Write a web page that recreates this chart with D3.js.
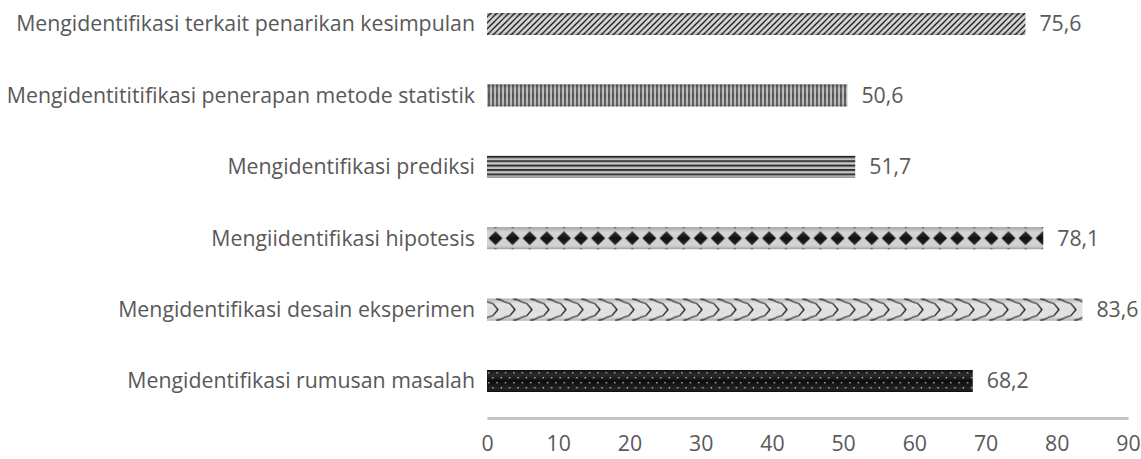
<!DOCTYPE html>
<html>
<head>
<meta charset="utf-8">
<script src="https://cdn.jsdelivr.net/npm/d3@7"></script>
<style>
  body { margin: 0; background: #fff; }
  svg text { font-family: "Open Sans", sans-serif; fill: #595959; }
</style>
</head>
<body>
<div class="chart"></div>
<script>
const width = 1141,
    height = 459,
    margin = { top: 24, bottom: 78, left: 487, right: 13 };

// top to bottom
const categories = [
    "Mengidentifikasi terkait penarikan kesimpulan",
    "Mengidentititifikasi penerapan metode statistik",
    "Mengidentifikasi prediksi",
    "Mengiidentifikasi hipotesis",
    "Mengidentifikasi desain eksperimen",
    "Mengidentifikasi rumusan masalah"
];
const values = [75.6, 50.6, 51.7, 78.1, 83.6, 68.2];
const valueLabels = ["75,6", "50,6", "51,7", "78,1", "83,6", "68,2"];
const ticks = [0, 10, 20, 30, 40, 50, 60, 70, 80, 90];
const patternIds = ["pDiag", "pVert", "pHoriz", "pDiamond", "pScale", "pDots"];
const barH = 22;
const fontSize = "21.3px";

const svg = d3.select(".chart")
    .append("svg")
    .attr("width", width)
    .attr("height", height);

const defs = svg.append("defs");

const xScale = d3.scaleLinear()
    .domain([0, 90])
    .range([margin.left, width - margin.right]);

// bar centres
const yScale = d3.scalePoint()
    .domain(categories)
    .range([margin.top, height - margin.bottom]);

// diagonal stripes
let p = defs.append("pattern").attr("id", "pDiag").attr("patternUnits", "userSpaceOnUse")
    .attr("width", 6).attr("height", 6);
p.append("rect").attr("width", 6).attr("height", 6).attr("fill", "#d4d4d4");
p.append("path").attr("d", "M-1,1 L1,-1 M0,6 L6,0 M5,7 L7,5")
    .attr("stroke", "#222").attr("stroke-width", 1.5);

// vertical stripes
p = defs.append("pattern").attr("id", "pVert").attr("patternUnits", "userSpaceOnUse")
    .attr("width", 4).attr("height", 4);
p.append("rect").attr("width", 4).attr("height", 4).attr("fill", "#b8b8b8");
p.append("rect").attr("width", 2).attr("height", 4).attr("fill", "#555");

// horizontal stripes
p = defs.append("pattern").attr("id", "pHoriz").attr("patternUnits", "userSpaceOnUse")
    .attr("width", 4).attr("height", 4.4).attr("y", yScale(categories[2]) - barH / 2);
p.append("rect").attr("width", 4).attr("height", 4.4).attr("fill", "#c4c4c4");
p.append("rect").attr("width", 4).attr("height", 2).attr("fill", "#262626");

// diamonds
p = defs.append("pattern").attr("id", "pDiamond").attr("patternUnits", "userSpaceOnUse")
    .attr("width", 17.1).attr("height", 17)
    .attr("x", xScale(0)).attr("y", yScale(categories[3]) - 8.5);
p.append("rect").attr("width", 17.1).attr("height", 17).attr("fill", "#d0d0d0");
p.append("path").attr("d", "M8.5,1.5 L15.5,8.5 L8.5,15.5 L1.5,8.5 Z").attr("fill", "#111");

// scales
p = defs.append("pattern").attr("id", "pScale").attr("patternUnits", "userSpaceOnUse")
    .attr("width", 17).attr("height", 22)
    .attr("x", xScale(0)).attr("y", yScale(categories[4]) - barH / 2);
p.append("rect").attr("width", 17).attr("height", 22).attr("fill", "#e0e0e0");
p.append("path").attr("d", "M0,3 L6,5 L11,11 L6,17 L0,19 M9,0 L13,1 L17,3 M9,22 L13,21 L17,19")
    .attr("fill", "none").attr("stroke", "#1a1a1a").attr("stroke-width", 1.3);

// dots on black
p = defs.append("pattern").attr("id", "pDots").attr("patternUnits", "userSpaceOnUse")
    .attr("width", 8.4).attr("height", 10)
    .attr("x", xScale(0)).attr("y", yScale(categories[5]) - barH / 2);
p.append("rect").attr("width", 8.4).attr("height", 10).attr("fill", "#0d0d0d");
p.append("rect").attr("x", 1).attr("y", 2).attr("width", 1.4).attr("height", 1.4).attr("fill", "#bbb");
p.append("rect").attr("x", 5.2).attr("y", 7).attr("width", 1.4).attr("height", 1.4).attr("fill", "#bbb");

// bevel shading overlay
const grad = defs.append("linearGradient").attr("id", "bevel")
    .attr("x1", 0).attr("y1", 0).attr("x2", 0).attr("y2", 1);
grad.append("stop").attr("offset", "0%").attr("stop-color", "#000").attr("stop-opacity", 0.25);
grad.append("stop").attr("offset", "25%").attr("stop-color", "#fff").attr("stop-opacity", 0.12);
grad.append("stop").attr("offset", "50%").attr("stop-color", "#fff").attr("stop-opacity", 0.0);
grad.append("stop").attr("offset", "80%").attr("stop-color", "#fff").attr("stop-opacity", 0.08);
grad.append("stop").attr("offset", "100%").attr("stop-color", "#000").attr("stop-opacity", 0.25);

// bars
const bars = svg.selectAll(".bar")
    .data(categories)
    .join("g")
    .attr("class", "bar");

bars.append("rect")
    .attr("x", xScale(0))
    .attr("y", d => yScale(d) - barH / 2)
    .attr("width", (d, i) => xScale(values[i]) - xScale(0))
    .attr("height", barH)
    .attr("fill", (d, i) => `url(#${patternIds[i]})`);

bars.append("rect")
    .attr("x", xScale(0))
    .attr("y", d => yScale(d) - barH / 2)
    .attr("width", (d, i) => xScale(values[i]) - xScale(0))
    .attr("height", barH)
    .attr("fill", "url(#bevel)");

// value labels
bars.append("text")
    .attr("x", (d, i) => xScale(values[i]) + 14)
    .attr("y", d => yScale(d))
    .attr("dy", "0.35em")
    .style("font-size", fontSize)
    .text((d, i) => valueLabels[i]);

// category labels
bars.append("text")
    .attr("x", margin.left - 12)
    .attr("y", d => yScale(d))
    .attr("dy", "0.35em")
    .attr("text-anchor", "end")
    .style("font-size", fontSize)
    .text(d => d);

// x axis
const xAxis = d3.axisBottom(xScale).tickValues(ticks).tickSize(0).tickPadding(18);
const xAxisGroup = svg.append("g")
    .attr("class", "xAxis")
    .attr("transform", `translate(0, 418)`)
    .call(xAxis);
xAxisGroup.select(".domain").attr("stroke", "#c3c3c3").attr("stroke-width", 3);
xAxisGroup.selectAll("text").style("font-size", fontSize).attr("fill", "#595959");
</script>
</body>
</html>
